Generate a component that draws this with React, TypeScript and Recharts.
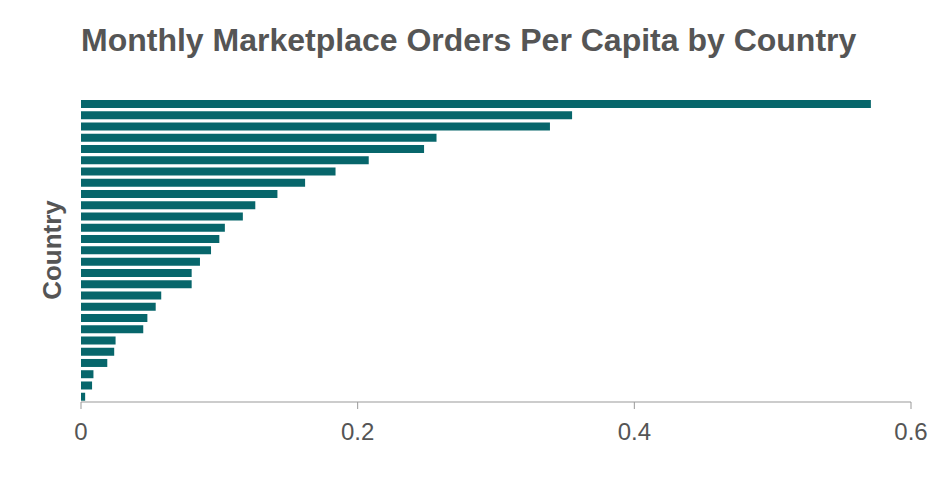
import { BarChart, Bar, XAxis, YAxis } from "recharts";

/* ── Monthly marketplace orders per capita, sorted high → low ── */

const countries = [
  "South Korea", "United Kingdom", "China", "United States", "Germany",
  "Japan", "Netherlands", "France", "Canada", "Australia",
  "Sweden", "Denmark", "Norway", "Spain", "Italy",
  "Poland", "Belgium", "Brazil", "Mexico", "Russia",
  "Turkey", "India", "Indonesia", "Vietnam", "Egypt",
  "Nigeria", "Pakistan",
];

const ordersPerCapita = [
  0.571, 0.355, 0.339, 0.257, 0.248,
  0.208, 0.184, 0.162, 0.142, 0.126,
  0.117, 0.104, 0.1, 0.094, 0.086,
  0.08, 0.08, 0.058, 0.054, 0.048,
  0.045, 0.025, 0.024, 0.019, 0.009,
  0.008, 0.003,
];

const xTicks = [0, 0.2, 0.4, 0.6];

const data = countries.map((country, i) => ({
  country,
  value: ordersPerCapita[i],
}));

const FONT = '"Liberation Sans", Arial, Helvetica, sans-serif';
const TEXT = "#555555";

export default function App() {
  return (
    <div
      style={{
        position: "fixed",
        left: 0,
        top: 0,
        width: 940,
        height: 480,
        background: "#ffffff",
        fontFamily: FONT,
      }}
    >
      <div
        style={{
          position: "absolute",
          left: 81,
          top: 22,
          fontSize: 32,
          fontWeight: 700,
          color: TEXT,
          whiteSpace: "nowrap",
        }}
      >
        Monthly Marketplace Orders Per Capita by Country
      </div>
      <BarChart
        width={940}
        height={480}
        data={data}
        layout="vertical"
        margin={{ top: 98, right: 29, bottom: 48, left: 23 }}
        barSize={8}
      >
        <XAxis
          type="number"
          domain={[0, 0.6]}
          ticks={xTicks}
          tickFormatter={(v: number) => String(v)}
          stroke="#999999"
          tickSize={7}
          tickMargin={14}
          tick={{ fontSize: 24, fill: TEXT, fontFamily: FONT }}
        />
        <YAxis
          type="category"
          dataKey="country"
          width={58}
          tick={false}
          axisLine={false}
          tickLine={false}
          label={{
            value: "Country",
            angle: -90,
            position: "center",
            style: {
              fontSize: 26,
              fontWeight: 700,
              fill: TEXT,
              fontFamily: FONT,
            },
          }}
        />
        <Bar dataKey="value" fill="#07666b" isAnimationActive={false} />
      </BarChart>
    </div>
  );
}
